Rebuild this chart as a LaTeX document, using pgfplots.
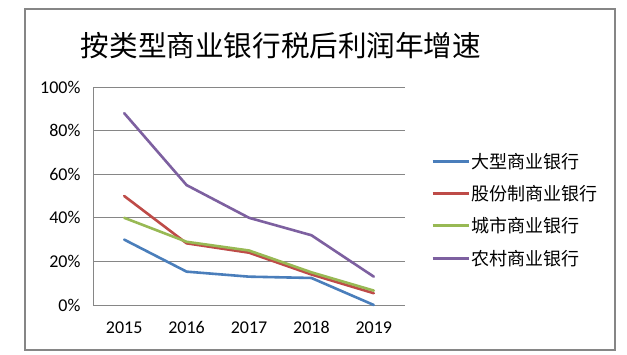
\documentclass[border=0pt]{standalone}
\usepackage{fontspec}
\setmainfont{Carlito}
\newfontfamily\cjk{Noto Sans CJK SC}
\usepackage{pgfplots}
\pgfplotsset{compat=1.18}
\definecolor{sBlue}{HTML}{4A7EBB}
\definecolor{sRed}{HTML}{BE4B48}
\definecolor{sGreen}{HTML}{98B954}
\definecolor{sPurple}{HTML}{7D60A0}
\definecolor{gridc}{HTML}{868686}
\begin{document}
\begin{tikzpicture}[x=1pt,y=1pt]
\path[fill=white] (0,0) rectangle (627,354);
\draw[color=gridc, line width=1.4pt] (25,4) rectangle (615,345);
\node[font=\cjk\fontsize{28.6}{33}\selectfont] at (281,308) {按类型商业银行税后利润年增速};
\begin{axis}[at={(93pt,49pt)}, anchor=south west, scale only axis,
  width=312pt, height=218pt,
  xmin=0.5, xmax=5.5, ymin=0, ymax=100,
  xtick={1,2,3,4,5}, xticklabels={2015,2016,2017,2018,2019},
  ytick={0,20,40,60,80,100},
  yticklabel={\pgfmathprintnumber{\tick}\%},
  /pgf/number format/assume math mode=true,
  ymajorgrids, grid style={gridc, line width=0.8pt},
  axis lines*=left, axis line style={gridc, line width=0.8pt, -},
  major tick length=0pt,
  tick label style={font=\fontsize{18}{20}\selectfont},
  yticklabel style={xshift=-9pt},
  xticklabel style={yshift=-13pt},
  clip=false,
  every axis plot/.append style={line width=2.6pt, line join=round, line cap=round},
  legend style={at={(1.083,0.702)}, anchor=north west, draw=none, fill=none,
    font=\cjk\fontsize{18}{20}\selectfont, row sep=13.5pt, inner sep=0pt,
    nodes={inner sep=1pt}},
  legend cell align=left,
  legend image code/.code={\draw[#1, line width=3pt, line cap=butt] (0pt,0pt) -- (36pt,0pt);},
]
\addplot[sBlue] coordinates {(1,30) (2,15.3) (3,13) (4,12.4) (5,0)};
\addlegendentry{大型商业银行}
\addplot[sRed] coordinates {(1,50) (2,28.3) (3,24) (4,14) (5,5.4)};
\addlegendentry{股份制商业银行}
\addplot[sGreen] coordinates {(1,40) (2,29) (3,25) (4,15) (5,6.6)};
\addlegendentry{城市商业银行}
\addplot[sPurple] coordinates {(1,88) (2,55) (3,40) (4,32) (5,13)};
\addlegendentry{农村商业银行}
\end{axis}
\end{tikzpicture}
\end{document}
